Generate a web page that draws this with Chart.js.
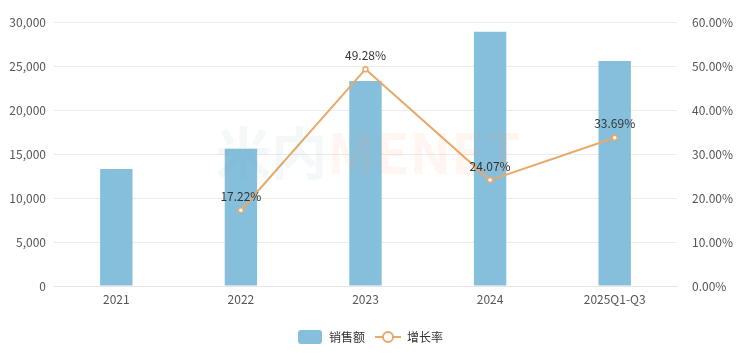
<!DOCTYPE html>
<html>
<head>
<meta charset="utf-8">
<script src="https://cdn.jsdelivr.net/npm/chart.js@4"></script>
<style>
  html, body { margin: 0; padding: 0; background: #fff; }
  #wrap { width: 740px; height: 359px; }
</style>
</head>
<body>
<div id="wrap"><canvas id="myChart" width="740" height="359"></canvas></div>
<script>
let categories = ['2021', '2022', '2023', '2024', '2025Q1-Q3']
let sales = [13300, 15600, 23290, 28900, 25580]
let growth = [null, 17.22, 49.28, 24.07, 33.69]
let leftTicks = [0, 5000, 10000, 15000, 20000, 25000, 30000]
let rightTicks = [0, 10, 20, 30, 40, 50, 60]

let fontFamily = '"Microsoft YaHei", "Noto Sans CJK SC", "Noto Sans", sans-serif'
let barColor = '#86bfdc'
let lineColor = '#e9a96a'

// legend icons
function barIcon() {
    let c = document.createElement('canvas')
    c.width = 24; c.height = 14
    let g = c.getContext('2d')
    g.fillStyle = barColor
    g.beginPath()
    g.roundRect(0, 0, 24, 14, 3)
    g.fill()
    return c
}
function lineIcon() {
    let c = document.createElement('canvas')
    c.width = 26; c.height = 14
    let g = c.getContext('2d')
    g.strokeStyle = lineColor
    g.lineWidth = 2
    g.beginPath(); g.moveTo(0, 7); g.lineTo(26, 7); g.stroke()
    g.fillStyle = '#fff'
    g.beginPath(); g.arc(13, 7, 5, 0, Math.PI * 2); g.fill(); g.stroke()
    return c
}

let watermark = {
    id: 'watermark',
    afterDatasetsDraw(chart) {
        let ctx = chart.ctx
        ctx.save()
        ctx.font = 'bold 56px ' + fontFamily
        ctx.textBaseline = 'middle'
        ctx.textAlign = 'left'
        let a = '米内', b = 'MENET'
        let wa = ctx.measureText(a).width
        let wb = ctx.measureText(b).width
        let x = 368 - (wa + wb) / 2
        ctx.fillStyle = 'rgba(120,160,180,0.08)'
        ctx.fillText(a, x, 153)
        ctx.fillStyle = 'rgba(250,150,100,0.09)'
        ctx.fillText(b, x + wa, 153)
        ctx.restore()
    }
}

let pointLabels = {
    id: 'pointLabels',
    afterDatasetsDraw(chart) {
        let ctx = chart.ctx
        let meta = chart.getDatasetMeta(1)
        ctx.save()
        ctx.font = '12px ' + fontFamily
        ctx.fillStyle = '#333'
        ctx.textAlign = 'center'
        ctx.textBaseline = 'bottom'
        meta.data.forEach((pt, i) => {
            let v = growth[i]
            if (v === null || v === undefined) return
            ctx.fillText(v.toFixed(2) + '%', pt.x, pt.y - 8)
        })
        ctx.restore()
    }
}

let ctx = document.getElementById('myChart').getContext('2d')

let myChart = new Chart(ctx, {
    data: {
        labels: categories,
        datasets: [
            {
                type: 'bar',
                label: '销售额',
                data: sales,
                backgroundColor: barColor,
                barPercentage: 0.52,
                categoryPercentage: 0.5,
                yAxisID: 'y',
                order: 2
            },
            {
                type: 'line',
                label: '增长率',
                data: growth,
                borderColor: lineColor,
                borderWidth: 2,
                pointRadius: 2.5,
                pointBorderWidth: 1.5,
                pointBackgroundColor: '#fff',
                pointBorderColor: lineColor,
                tension: 0,
                spanGaps: false,
                yAxisID: 'y1',
                order: 1
            }
        ]
    },
    options: {
        responsive: false,
        animation: false,
        devicePixelRatio: 1,
        layout: { padding: { top: 22, bottom: 6, left: 0, right: 0 } },
        plugins: {
            tooltip: { enabled: false },
            legend: {
                position: 'bottom',
                labels: {
                    usePointStyle: true,
                    pointStyleWidth: 26,
                    padding: 10,
                    font: { size: 12, family: fontFamily },
                    color: '#333',
                    generateLabels() {
                        return [
                            { text: '销售额', pointStyle: barIcon(), datasetIndex: 0, fontColor: '#333' },
                            { text: '增长率', pointStyle: lineIcon(), datasetIndex: 1, fontColor: '#333' }
                        ]
                    }
                }
            }
        },
        scales: {
            x: {
                grid: { display: false, drawTicks: false },
                border: { color: '#e6e6e6' },
                ticks: { color: '#555', font: { size: 12, family: fontFamily }, padding: 6 },
                afterFit(s) { s.height = 35 }
            },
            y: {
                position: 'left',
                min: 0, max: 30000,
                afterBuildTicks(s) { s.ticks = leftTicks.map(v => ({ value: v })) },
                grid: { color: '#ececec', drawTicks: false },
                border: { display: false },
                ticks: {
                    color: '#555', padding: 8,
                    font: { size: 12, family: fontFamily },
                    callback: v => v.toLocaleString('en-US')
                },
                afterFit(s) { s.width = 54 }
            },
            y1: {
                position: 'right',
                min: 0, max: 60,
                afterBuildTicks(s) { s.ticks = rightTicks.map(v => ({ value: v })) },
                grid: { display: false },
                border: { display: false },
                ticks: {
                    color: '#555', padding: 7,
                    font: { size: 12, family: fontFamily },
                    callback: v => v.toFixed(2) + '%'
                },
                afterFit(s) { s.width = 63 }
            }
        }
    },
    plugins: [watermark, pointLabels]
})
</script>
</body>
</html>
